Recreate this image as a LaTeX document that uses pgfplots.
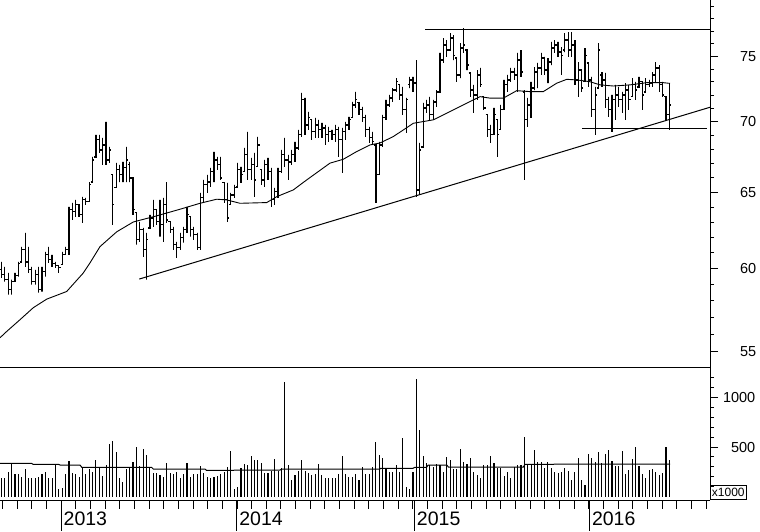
\documentclass[border=0pt]{standalone}
\usepackage{fontspec}
\setmainfont{Liberation Sans}
\usepackage{pgfplots}
\usepackage{pgfplotstable}
\pgfplotsset{compat=1.18}

\pgfplotstableread{
i h l o c
0 60.42 59.42 59.92 59.61
1 60.11 59.18 59.61 59.30
2 59.73 58.38 59.30 58.68
3 59.30 58.38 58.68 59.18
4 59.73 59.18 59.18 59.55
5 60.42 59.49 59.55 60.30
6 61.39 60.42 60.42 61.19
7 62.29 60.11 61.19 60.42
8 61.39 59.73 60.42 59.92
9 60.11 58.99 59.92 59.18
10 59.92 58.99 59.18 59.61
11 60.11 58.50 59.61 58.68
12 60.11 58.56 58.68 59.80
13 61.06 59.49 59.80 60.87
14 61.39 60.36 60.87 60.55
15 60.87 60.11 60.55 60.30
16 60.42 60.05 60.30 60.17
17 60.17 59.73 60.17 60.05
18 61.06 60.24 60.24 60.87
19 61.39 60.87 60.87 61.19
20 64.02 60.87 61.19 63.82
21 64.29 63.15 63.82 63.69
22 64.49 63.35 63.69 64.16
23 64.16 63.35 64.16 63.49
24 64.69 62.95 63.49 64.49
25 64.63 64.16 64.49 64.36
26 65.72 64.36 64.36 65.52
27 67.47 65.72 65.72 67.26
28 69.06 67.47 67.47 68.69
29 69.06 67.76 68.69 67.97
30 68.84 66.91 67.97 68.33
31 70.00 66.91 68.33 67.26
32 68.19 67.05 67.26 67.97
33 66.21 62.82 66.21 64.16
34 67.05 65.31 65.31 66.56
35 66.91 65.72 66.56 66.21
36 67.12 65.72 66.21 66.70
37 68.19 65.72 66.70 67.26
38 67.12 65.72 66.91 66.00
39 66.00 63.49 66.00 63.82
40 63.62 61.52 63.62 61.84
41 63.02 61.71 61.84 62.49
42 62.62 60.74 62.49 61.19
43 62.29 59.30 61.19 61.84
44 63.49 62.62 62.62 63.28
45 64.49 62.69 63.28 63.82
46 63.82 62.82 63.82 63.02
47 64.49 62.04 63.02 62.82
48 64.63 61.71 62.82 64.16
49 65.72 62.95 64.16 63.15
50 63.02 62.29 63.02 62.49
51 62.69 61.19 62.49 61.52
52 61.71 60.68 61.52 61.32
53 62.29 61.19 61.32 61.97
54 62.69 61.65 61.97 62.49
55 64.02 62.29 62.49 63.49
56 63.35 62.04 63.35 62.49
57 62.69 61.84 62.49 62.17
58 62.29 61.19 62.17 61.32
59 64.97 61.19 61.32 64.63
60 65.86 64.36 64.63 65.52
61 66.21 64.97 65.52 65.72
62 66.70 65.38 65.72 66.42
63 67.83 65.72 66.42 67.26
64 67.47 66.56 67.26 66.91
65 67.47 65.86 66.91 66.00
66 65.65 64.29 65.65 64.49
67 65.65 63.02 64.49 63.28
68 64.97 64.16 64.16 64.83
69 65.52 64.63 64.83 65.31
70 67.05 65.38 65.38 66.56
71 66.77 65.65 66.56 66.21
72 68.11 66.42 66.42 67.62
73 69.27 65.86 67.62 66.56
74 67.40 65.86 66.56 66.91
75 67.76 64.69 66.91 65.86
76 68.91 66.77 66.77 68.33
77 66.56 65.52 66.56 65.86
78 67.26 65.38 65.86 66.91
79 67.40 65.86 66.91 66.42
80 66.70 64.02 66.42 64.49
81 65.31 64.16 64.49 65.04
82 66.70 64.63 65.04 66.42
83 67.97 66.35 66.42 67.62
84 68.84 66.77 67.62 67.26
85 67.62 65.86 67.26 67.12
86 67.97 66.91 67.12 67.62
87 68.55 67.12 67.62 68.11
88 69.42 67.97 68.11 69.06
89 72.17 68.91 69.06 71.64
90 71.79 69.06 71.64 69.78
91 70.74 69.42 69.78 70.30
92 70.15 68.69 70.15 69.27
93 70.30 68.84 69.27 69.78
94 70.15 68.84 69.78 69.42
95 69.93 68.84 69.42 69.56
96 69.78 68.33 69.56 69.06
97 69.64 68.55 69.06 69.27
98 69.42 68.69 69.27 69.06
99 69.78 68.55 69.06 69.42
100 69.64 67.47 69.42 68.69
101 69.56 66.35 68.69 69.27
102 70.00 68.69 69.27 69.78
103 70.37 69.42 69.78 70.15
104 71.49 70.30 70.30 71.27
105 72.24 71.04 71.27 71.64
106 71.42 70.52 71.42 70.89
107 71.12 70.00 70.89 70.30
108 70.52 68.91 70.30 69.42
109 69.64 68.47 69.42 68.84
110 69.27 68.33 68.84 68.55
111 68.33 64.29 68.33 66.21
112 68.55 66.21 66.21 68.33
113 70.52 68.19 68.33 70.30
114 71.64 70.15 70.30 71.27
115 72.02 71.12 71.27 71.79
116 72.54 71.49 71.79 72.39
117 73.31 72.24 72.39 73.01
118 72.78 71.64 72.78 72.02
119 72.62 70.52 72.02 70.89
120 71.79 69.20 70.89 71.64
121 73.39 72.54 72.78 73.16
122 73.39 72.24 73.16 72.93
123 74.71 64.69 72.93 65.17
124 68.47 64.83 65.17 67.97
125 71.42 68.19 68.19 71.04
126 71.64 70.67 71.04 71.27
127 71.87 70.15 71.27 70.52
128 71.64 70.15 70.52 71.49
129 72.39 71.12 71.49 72.24
130 75.26 72.17 72.24 74.71
131 76.46 74.48 74.71 75.90
132 76.30 74.95 75.90 75.50
133 76.86 75.50 75.50 76.46
134 76.70 74.71 76.46 75.10
135 74.87 73.01 74.87 73.55
136 76.06 73.31 73.55 75.66
137 77.25 75.26 75.66 75.90
138 75.50 73.93 75.50 74.32
139 73.70 71.87 73.70 72.39
140 72.78 70.67 72.39 72.02
141 73.93 71.64 72.02 73.55
142 74.09 72.62 73.55 72.78
143 71.87 70.89 71.87 71.04
144 70.52 68.91 70.52 69.42
145 69.78 68.47 69.42 69.06
146 71.04 69.06 69.06 70.52
147 70.15 67.47 70.15 69.06
148 71.27 69.42 69.42 70.89
149 73.16 70.89 70.89 72.78
150 73.55 72.24 72.78 73.16
151 74.09 73.01 73.16 73.77
152 74.09 73.16 73.77 73.55
153 75.26 72.24 73.55 74.71
154 75.50 73.39 74.71 73.77
155 72.39 65.86 72.24 70.15
156 71.79 69.64 70.15 71.27
157 73.01 70.30 71.27 72.54
158 74.16 72.39 72.54 73.77
159 74.48 72.54 73.77 74.09
160 75.26 73.55 74.09 74.87
161 74.95 73.55 74.87 73.93
162 74.87 72.93 73.93 74.55
163 76.14 74.32 74.55 75.66
164 76.30 75.26 75.66 75.90
165 76.14 74.95 75.90 75.34
166 75.74 73.55 75.34 75.10
167 76.86 75.34 75.50 76.30
168 76.94 74.95 76.30 75.50
169 76.94 74.95 75.50 75.90
170 76.30 72.78 75.90 73.16
171 74.55 71.87 73.16 73.93
172 73.93 72.24 73.93 72.54
173 75.66 73.01 73.01 75.10
174 74.48 72.62 74.48 73.16
175 73.39 70.37 73.16 70.89
176 72.62 69.06 70.89 72.02
177 76.06 72.54 72.54 75.50
178 73.77 72.62 73.55 73.16
179 73.70 71.04 73.16 71.64
180 71.87 70.37 71.64 70.89
181 72.02 69.27 70.89 71.64
182 72.78 70.15 71.64 72.02
183 72.62 71.12 72.02 71.64
184 72.24 70.67 71.64 72.02
185 72.93 70.15 72.02 72.39
186 72.78 70.89 72.39 71.64
187 73.31 71.87 71.87 72.78
188 73.01 71.64 72.78 72.39
189 73.39 72.62 72.62 73.01
190 73.01 70.89 73.01 72.02
191 73.31 72.24 72.24 72.78
192 73.16 72.62 72.78 72.93
193 73.77 72.62 72.93 73.55
194 74.55 73.01 73.55 74.09
195 74.32 72.24 74.09 72.78
196 73.01 71.87 72.78 72.02
197 71.87 70.15 71.87 70.52
198 72.93 69.42 70.52 71.27
}\bars

\pgfplotstableread{
i v
0 184
1 184
2 251
3 325
4 224
5 224
6 200
7 278
8 190
9 190
10 190
11 197
12 224
13 244
14 184
15 190
16 325
17 76
18 83
19 227
20 359
21 234
22 227
23 197
24 295
25 231
26 274
27 251
28 369
29 298
30 207
31 318
32 534
33 561
34 450
35 184
36 150
37 274
38 285
39 352
40 500
41 305
42 480
43 419
44 291
45 234
46 241
47 217
48 194
49 335
50 241
51 227
52 251
53 184
54 227
55 335
56 200
57 231
58 231
59 308
60 241
61 200
62 190
63 200
64 207
65 227
66 244
67 298
68 460
69 76
70 96
71 285
72 328
73 318
74 409
75 369
76 369
77 338
78 234
79 234
80 258
81 379
82 258
83 285
84 1153
85 318
86 167
87 217
88 258
89 366
90 258
91 234
92 217
93 224
94 328
95 217
96 190
97 190
98 190
99 190
100 224
101 409
102 224
103 200
104 200
105 224
106 167
107 298
108 224
109 224
110 298
111 547
112 419
113 385
114 291
115 244
116 244
117 318
118 251
119 594
120 99
121 76
122 244
123 1187
124 672
125 412
126 335
127 318
128 301
129 331
130 318
131 251
132 396
133 369
134 278
135 278
136 480
137 352
138 325
139 385
140 251
141 217
142 184
143 318
144 318
145 412
146 335
147 291
148 291
149 210
150 251
151 184
152 301
153 318
154 318
155 604
156 318
157 318
158 470
159 352
160 352
161 285
162 352
163 285
164 244
165 237
166 251
167 285
168 258
169 167
170 251
171 392
172 167
173 116
174 426
175 385
176 352
177 446
178 335
179 429
180 470
181 362
182 308
183 308
184 460
185 227
186 268
187 379
188 500
189 308
190 227
191 187
192 268
193 278
194 250
195 217
196 240
197 500
198 369
}\vols

\begin{document}
\begin{tikzpicture}
% ---------------- price panel (logarithmic price scale) ----------------
\begin{axis}[
  name=price, at={(0pt,0pt)}, anchor=north west,
  scale only axis, width=710pt, height=367pt,
  xmin=-0.445, xmax=210.05,
  y coord trafo/.code={\pgfmathparse{ln(#1)}},
  y coord inv trafo/.code={\pgfmathparse{exp(#1)}},
  ymin=54.1, ymax=79.57,
  axis x line*=bottom, axis y line*=right,
  axis line style={-, line width=1pt, black},
  xtick=\empty,
  ytick={55,60,65,70,75}, yticklabels={55,60,65,70,75},
  minor ytick={56,57,58,59,61,62,63,64,66,67,68,69,71,72,73,74,76,77,78,79},
  tick align=outside,
  major tick length=8pt, minor tick length=4pt,
  tick style={black, line width=1pt},
  yticklabel style={font=\fontsize{14.5}{15}\selectfont, anchor=east, inner sep=0pt, xshift=38.5pt},
]
\pgfplotsforeachungrouped \k in {0,...,198}{
  \pgfplotstablegetelem{\k}{i}\of\bars \let\vX\pgfplotsretval
  \pgfplotstablegetelem{\k}{h}\of\bars \let\vH\pgfplotsretval
  \pgfplotstablegetelem{\k}{l}\of\bars \let\vL\pgfplotsretval
  \pgfplotstablegetelem{\k}{o}\of\bars \let\vO\pgfplotsretval
  \pgfplotstablegetelem{\k}{c}\of\bars \let\vC\pgfplotsretval
  \pgfmathsetmacro\vXa{\vX-0.5}
  \pgfmathsetmacro\vXb{\vX+0.5}
  \edef\tmp{\noexpand\addplot[black, line width=1.2pt] coordinates {(\vXa,\vO)(\vX,\vO)(\vX,\vL)(\vX,\vH)(\vX,\vC)(\vXb,\vC)};}
  \tmp
}
\addplot[black, line width=0.9pt] coordinates {(-0.44,55.79)(1.54,56.16)(5.48,56.86)(9.43,57.58)(13.4,58.10)(19.33,58.57)(24.25,59.72)(26.24,60.36)(29.2,61.40)(34.15,62.36)(39.08,63.01)(46.01,63.42)(52.92,63.86)(58.85,64.26)(63.8,64.54)(66.77,64.49)(70.71,64.26)(78.62,64.31)(81.59,64.71)(86.51,65.17)(90.48,65.86)(97.39,67.03)(101.33,67.31)(105.31,67.85)(109.25,68.33)(112.22,68.47)(116.16,68.93)(122.09,69.90)(128.02,70.15)(132.97,70.76)(137.92,71.39)(141.86,71.89)(144.83,71.77)(148.77,71.77)(152.74,72.34)(156.69,72.27)(160.63,72.27)(164.59,72.91)(167.56,73.21)(170.52,73.16)(174.47,73.03)(177.43,72.78)(181.38,72.70)(186.33,72.78)(191.28,72.95)(196.2,72.95)(198.19,72.90)};
\addplot[black, line width=1pt] coordinates {(40.85,59.34)(210.05,71.09)};
\addplot[black, line width=1pt] coordinates {(125.56,77.12)(210.05,77.12)};
\addplot[black, line width=1pt] coordinates {(172.2,69.55)(209.07,69.55)};
\end{axis}
% ---------------- volume panel ----------------
\begin{axis}[
  name=vol, at={(0pt,-367pt)}, anchor=north west,
  scale only axis, width=710pt, height=133pt,
  xmin=-0.445, xmax=210.05, ymin=-35, ymax=1308,
  axis x line*=bottom, axis y line*=right,
  axis line style={-, line width=1pt, black},
  xtick=\empty,
  ytick={500,1000}, yticklabels={500,1000},
  minor ytick={100,200,300,400,600,700,800,900,1100,1200},
  tick align=outside,
  major tick length=8pt, minor tick length=4pt,
  tick style={black, line width=1pt},
  yticklabel style={font=\fontsize{14.5}{15}\selectfont, anchor=east, inner sep=0pt, xshift=37.5pt},
]
\addplot[ycomb, black, line width=1.1pt] table[x=i, y=v] {\vols};
\addplot[black, line width=1pt] coordinates {(-0.44,335)(8.9,335)(9.4,325)(16.9,325)(17.4,318)(23.3,318)(23.8,295)(44.5,295)(45,278)(60.3,278)(60.8,264)(68.7,264)(69.2,268)(82.6,268)(83.1,278)(112.2,278)(112.2,285)(122,285)(122.5,295)(126,295)(126.5,318)(132,318)(132.5,298)(154.7,298)(155.2,325)(163.6,325)(164.1,328)(198.2,328)};
\end{axis}
% ---------------- date strip ----------------
\begin{axis}[
  name=strip, at={(0pt,-500pt)}, anchor=north west,
  scale only axis, width=710pt, height=31pt,
  xmin=-0.445, xmax=210.05, ymin=0, ymax=1,
  axis x line*=top, axis y line=none,
  axis line style={-, line width=1pt, black},
  xtick={17.64,69.73,122.38,174.27}, xticklabels={2013,2014,2015,2016},
  minor xtick={0.25,4.598,...,210},
  tick align=inside,
  major tick length=31pt, minor tick length=9pt,
  tick style={black, line width=1pt},
  ytick=\empty,
  xticklabel style={font=\fontsize{19.5}{20}\selectfont, anchor=north west, inner sep=0pt, xshift=2.5pt, yshift=-11.7pt},
]
\addplot[draw=none] coordinates {(0,0.5)};
\end{axis}
\node[draw, line width=0.8pt, inner sep=0pt, minimum width=35.7pt, minimum height=14pt, anchor=south west, font=\fontsize{12}{12}\selectfont] at (710pt,-499.3pt) {x1000};
\pgfresetboundingbox
\useasboundingbox (0pt,0pt) rectangle (760pt,-531pt);
\end{tikzpicture}
\end{document}
